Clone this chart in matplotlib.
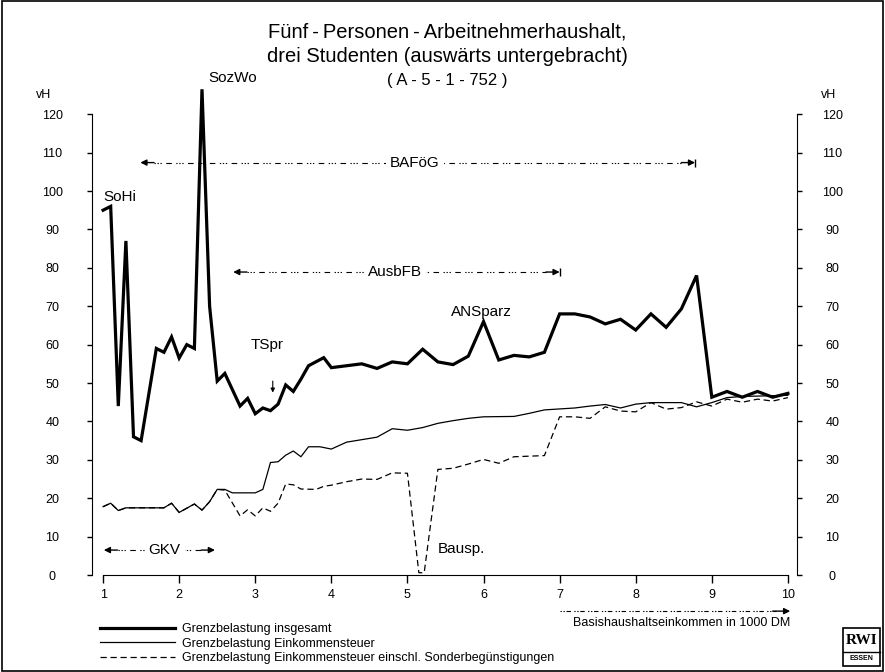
import numpy as np
import matplotlib.pyplot as plt
from matplotlib.patches import Rectangle

plt.rcParams['font.family'] = ['Liberation Sans', 'DejaVu Sans']

# Grenzbelastung insgesamt
x_ges = [1.0, 1.1, 1.2, 1.3, 1.4, 1.5, 1.7, 1.8, 1.9, 2.0, 2.1, 2.2, 2.3, 2.4, 2.5, 2.6,
         2.8, 2.9, 3.0, 3.1, 3.2, 3.3, 3.4, 3.5, 3.6, 3.7, 3.9, 4.0,
         4.2, 4.4, 4.6, 4.8, 5.0, 5.2, 5.4, 5.6, 5.8, 6.0, 6.2, 6.4, 6.6, 6.8, 7.0, 7.2,
         7.4, 7.6, 7.8, 8.0, 8.2, 8.4, 8.6, 8.8, 9.0, 9.2, 9.4, 9.6, 9.8, 10.0]
y_ges = [95, 96, 44, 87, 36, 35, 59, 58, 62, 56.5, 60, 59, 126.5, 70, 50.5, 52.5,
         44, 46, 42, 43.5, 42.8, 44.5, 49.5, 47.8, 51, 54.5, 56.6, 54,
         54.5, 55, 53.8, 55.5, 55, 58.8, 55.5, 54.8, 57, 66, 56, 57.2, 56.8, 58, 68, 68,
         67.2, 65.4, 66.6, 63.8, 68, 64.5, 69.3, 78, 46.3, 47.8, 46.3, 47.8, 46.3, 47.3]

# Grenzbelastung Einkommensteuer
x_est = [1.0, 1.1, 1.2, 1.3, 1.8, 1.9, 2.0, 2.2, 2.3, 2.4, 2.5, 2.6, 2.7,
         3.0, 3.1, 3.2, 3.3, 3.4, 3.5, 3.6, 3.7, 3.85, 4.0, 4.2,
         4.6, 4.8, 5.0, 5.2, 5.4, 5.6, 5.8, 6.0, 6.4, 6.6, 6.8,
         7.2, 7.4, 7.6, 7.8, 8.0, 8.2, 8.6, 8.8, 9.0, 9.2, 9.4, 10.0]
y_est = [17.8, 18.7, 16.8, 17.5, 17.5, 18.7, 16.3, 18.5, 16.9, 19.1, 22.3, 22.3, 21.4,
         21.4, 22.3, 29.3, 29.5, 31.2, 32.3, 30.8, 33.4, 33.4, 32.8, 34.6,
         35.9, 38.1, 37.7, 38.4, 39.5, 40.2, 40.8, 41.2, 41.3, 42.1, 43,
         43.5, 44, 44.4, 43.5, 44.5, 44.9, 44.9, 43.8, 44.9, 46.2, 46.5, 46.8]

# Grenzbelastung Einkommensteuer einschl. Sonderbeguenstigungen
x_son = [1.0, 1.1, 1.2, 1.3, 1.8, 1.9, 2.0, 2.2, 2.3, 2.4, 2.5, 2.6,
         2.8, 2.9, 3.0, 3.1, 3.2, 3.3, 3.4, 3.5, 3.6,
         3.8, 3.9, 4.0, 4.2, 4.4, 4.6, 4.8, 5.0, 5.15, 5.22,
         5.4, 5.6, 5.8, 6.0, 6.2, 6.4, 6.8, 7.0, 7.2, 7.4, 7.6, 7.8, 8.0,
         8.2, 8.4, 8.6, 8.8, 9.0, 9.2, 9.4, 9.6, 9.8, 10.0]
y_son = [17.8, 18.7, 16.8, 17.5, 17.5, 18.7, 16.3, 18.5, 16.9, 19.1, 22.3, 22.1,
         15.4, 17, 15.4, 17.5, 16.6, 18.7, 23.7, 23.5, 22.4,
         22.3, 23.1, 23.4, 24.3, 25, 24.9, 26.6, 26.5, 0.6, 0.6,
         27.5, 27.8, 28.9, 30.1, 29.1, 30.8, 31.1, 41.2, 41.2, 40.8, 43.8, 42.7, 42.5,
         44.9, 43.2, 43.6, 45.1, 44, 45.8, 45, 45.8, 45.3, 46.2]

x_ticks = list(range(1, 11))
y_ticks = list(range(0, 121, 10))

fig = plt.figure(figsize=(8.85, 6.72), dpi=100)
ax = fig.add_axes([0.104, 0.1443, 0.7966, 0.7429])

l1, = ax.plot(x_ges, y_ges, color='black', lw=2.3, solid_joinstyle='miter', label='Grenzbelastung insgesamt')
l2, = ax.plot(x_est, y_est, color='black', lw=0.9, label='Grenzbelastung Einkommensteuer')
l3, = ax.plot(x_son, y_son, color='black', lw=0.9, dashes=(5, 3),
              label='Grenzbelastung Einkommensteuer einschl. Sonderbegünstigungen')

ax.set_xlim(0.855, 10.12)
ax.set_ylim(0, 130)
ax.set_xticks(x_ticks)
ax.set_yticks(y_ticks)
ax.spines['top'].set_visible(False)
ax.spines['right'].set_visible(False)
ax.spines['left'].set_bounds(0, 120)
ax.spines['bottom'].set_bounds(1, 10)
ax.tick_params(axis='x', direction='out', length=6, width=1, pad=4, labelsize=9)
ax.tick_params(axis='y', direction='out', length=3.5, width=1, pad=25, labelsize=9)
for lbl in ax.get_yticklabels():
    lbl.set_ha('center')

ax2 = ax.twinx()
ax2.set_ylim(0, 130)
ax2.set_yticks(y_ticks)
ax2.spines['top'].set_visible(False)
ax2.spines['left'].set_visible(False)
ax2.spines['bottom'].set_visible(False)
ax2.spines['right'].set_bounds(0, 120)
ax2.tick_params(axis='y', direction='out', length=3.5, width=1, pad=22, labelsize=9)
for lbl in ax2.get_yticklabels():
    lbl.set_ha('center')

fig.text(44 / 885, 1 - 95 / 672, 'vH', ha='center', va='center', fontsize=9)
fig.text(829 / 885, 1 - 95 / 672, 'vH', ha='center', va='center', fontsize=9)

# title
fig.text(447 / 885, 1 - 32 / 672, 'Fünf\u2009-\u2009Personen\u2009-\u2009Arbeitnehmerhaushalt,',
         ha='center', va='center', fontsize=14.5)
fig.text(447 / 885, 1 - 56 / 672, 'drei Studenten (auswärts untergebracht)',
         ha='center', va='center', fontsize=14.5)
fig.text(447 / 885, 1 - 80 / 672, '( A - 5 - 1 - 752 )', ha='center', va='center', fontsize=12)

# labels on the curve
ax.text(1.01, 98.4, 'SoHi', ha='left', va='center', fontsize=11)
ax.text(2.39, 129.4, 'SozWo', ha='left', va='center', fontsize=11, clip_on=False)
ax.text(3.15, 60, 'TSpr', ha='center', va='center', fontsize=11)
ax.annotate('', xy=(3.23, 47.5), xytext=(3.23, 50.5),
            arrowprops=dict(arrowstyle='-|>', lw=0.8, color='black', mutation_scale=6,
                            shrinkA=0, shrinkB=0))
ax.text(5.97, 68.5, 'ANSparz', ha='center', va='center', fontsize=11)
ax.text(5.40, 6.8, 'Bausp.', ha='left', va='center', fontsize=11)


def range_arrow(x0, x1, y, label, xl, bar=True):
    d = 0.18
    ax.plot([x0 + d, x1 - d], [y, y], color='black', lw=0.8,
            dashes=(1.2, 1.5, 1.2, 1.5, 1.2, 4, 5, 4))
    ax.annotate('', xy=(x0, y), xytext=(x0 + d, y),
                arrowprops=dict(arrowstyle='-|>', lw=1, color='black', mutation_scale=9,
                                shrinkA=0, shrinkB=0))
    ax.annotate('', xy=(x1, y), xytext=(x1 - d, y),
                arrowprops=dict(arrowstyle='-|>', lw=1, color='black', mutation_scale=9,
                                shrinkA=0, shrinkB=0))
    if bar:
        ax.plot([x1], [y], marker='|', ms=6, mew=1, color='black')
    ax.text(xl, y, label, ha='center', va='center', fontsize=11,
            bbox=dict(facecolor='white', edgecolor='none', pad=3))


range_arrow(1.49, 8.78, 107.4, 'BAFöG', 5.1)
range_arrow(2.71, 7.0, 78.9, 'AusbFB', 4.84)
range_arrow(1.01, 2.47, 6.5, 'GKV', 1.81, bar=False)

# x-axis caption with arrow
ax.plot([7.0, 9.85], [-9.4, -9.4], color='black', lw=0.8, dashes=(1.2, 1.5, 1.2, 1.5, 4, 3),
        clip_on=False)
ax.annotate('', xy=(10.03, -9.4), xytext=(9.8, -9.4), annotation_clip=False,
            arrowprops=dict(arrowstyle='-|>', lw=1, color='black', mutation_scale=9,
                            shrinkA=0, shrinkB=0))
ax.text(10.03, -12.4, 'Basishaushaltseinkommen in 1000 DM', ha='right', va='center',
        fontsize=9, clip_on=False)

# legend
ax.legend(handles=[l1, l2, l3], loc='upper left', bbox_to_anchor=(100 / 885, 1 - 623 / 672),
          bbox_transform=fig.transFigure, frameon=False, fontsize=9, handlelength=6.0,
          handletextpad=0.6, labelspacing=0.2, borderpad=0, borderaxespad=0)

# logo
fig.patches.append(Rectangle((843 / 885, 1 - 666 / 672), 37 / 885, 38 / 672,
                             transform=fig.transFigure, fill=False, lw=1.2, color='black'))
fig.lines.append(plt.Line2D([843 / 885, 880 / 885], [1 - 652 / 672, 1 - 652 / 672],
                            transform=fig.transFigure, lw=1, color='black'))
fig.text(861.5 / 885, 1 - 640 / 672, 'RWI', ha='center', va='center', fontsize=11,
         fontweight='bold', family=['Liberation Serif', 'DejaVu Serif'])
fig.text(861.5 / 885, 1 - 659 / 672, 'ESSEN', ha='center', va='center', fontsize=5,
         fontweight='bold')

# frame
fig.patches.append(Rectangle((0.002, 0.002), 0.996, 0.996, transform=fig.transFigure,
                             fill=False, lw=1.2, color='black'))

plt.savefig('out.png', dpi=100)
